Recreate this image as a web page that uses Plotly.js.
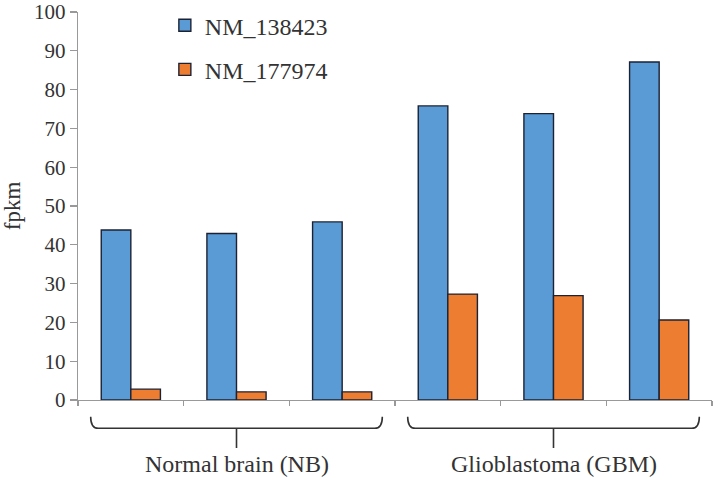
<!DOCTYPE html>
<html>
<head>
<meta charset="utf-8">
<script src="https://cdn.plot.ly/plotly-3.0.1.min.js"></script>
<style>html,body{margin:0;padding:0;background:#fff;}#chart{width:713px;height:480px;}</style>
</head>
<body>
<div id="chart"></div>
<script>
// Data
const samples = ["NB1", "NB2", "NB3", "GBM1", "GBM2", "GBM3"];
const seriesNames = ["NM_138423", "NM_177974"];
const nm138423 = [43.8, 42.9, 45.9, 75.8, 73.8, 87.1];
const nm177974 = [2.8, 2.1, 2.1, 27.3, 26.9, 20.6];
const groupLabels = ["Normal brain (NB)", "Glioblastoma (GBM)"];
const groupCenters = [1, 4]; // category index of the group centre
const yTicks = [0, 10, 20, 30, 40, 50, 60, 70, 80, 90, 100];

const FONT = "Liberation Serif";
const outline = {color: "#1c2233", width: 1.4};

const traces = [
  {type: "bar", name: seriesNames[0], x: samples, y: nm138423, legendgroup: "a",
   marker: {color: "#5b9bd5", line: outline}},
  {type: "bar", name: seriesNames[1], x: samples, y: nm177974, legendgroup: "b",
   marker: {color: "#ed7d31", line: outline}}
];

// braces below groups, in paper coordinates
const nCat = samples.length;
const idxToPaper = i => (i + 0.5) / nCat;
const halfSpan = 1.38;
const yTop = -0.043, yH = -0.073, yStem = -0.124;
const shapes = [];
const annotations = [];
groupCenters.forEach((c, k) => {
  const x1 = idxToPaper(c - halfSpan), x2 = idxToPaper(c + halfSpan), xc = idxToPaper(c);
  const rx = 0.012, ry = 0.03;
  const path = `M${x1},${yTop} L${x1},${yH + ry} Q${x1},${yH} ${x1 + rx},${yH} ` +
    `L${x2 - rx},${yH} Q${x2},${yH} ${x2},${yH + ry} L${x2},${yTop} ` +
    `M${xc},${yH} L${xc},${yStem}`;
  shapes.push({type: "path", xref: "paper", yref: "paper", path: path,
    line: {color: "#333", width: 1.6}});
  annotations.push({xref: "paper", yref: "paper", x: xc, y: -0.165, yanchor: "middle",
    xanchor: "center", text: groupLabels[k], showarrow: false,
    font: {family: FONT, size: 24, color: "#333"}});
});

const layout = {
  width: 713, height: 480,
  margin: {l: 78, r: 1, t: 12, b: 80},
  paper_bgcolor: "#fff", plot_bgcolor: "#fff",
  barmode: "group", bargap: 0.44, bargroupgap: 0,
  font: {family: FONT, color: "#333"},
  showlegend: true,
  legend: {x: 0.137, y: 1.023, xanchor: "left", yanchor: "top",
    font: {family: FONT, size: 24, color: "#333"}, tracegroupgap: 10,
    bgcolor: "rgba(0,0,0,0)"},
  xaxis: {type: "category", showticklabels: false, ticks: "outside", tickson: "boundaries",
    ticklen: 5, tickcolor: "#999", tickwidth: 1.3, showline: true, linecolor: "#999", linewidth: 1.3,
    showgrid: false, zeroline: false, range: [-0.5, 5.5]},
  yaxis: {range: [0, 100], tickvals: yTicks, ticks: "outside", ticklen: 7, tickcolor: "#999", tickwidth: 1.3,
    showline: true, linecolor: "#999", linewidth: 1.3, showgrid: false, zeroline: false,
    tickfont: {family: FONT, size: 21, color: "#333"},
    title: {text: "fpkm", font: {family: FONT, size: 23, color: "#333"}, standoff: 10}},
  shapes: shapes,
  annotations: annotations
};

Plotly.newPlot("chart", traces, layout, {displayModeBar: false, staticPlot: true});
</script>
</body>
</html>
